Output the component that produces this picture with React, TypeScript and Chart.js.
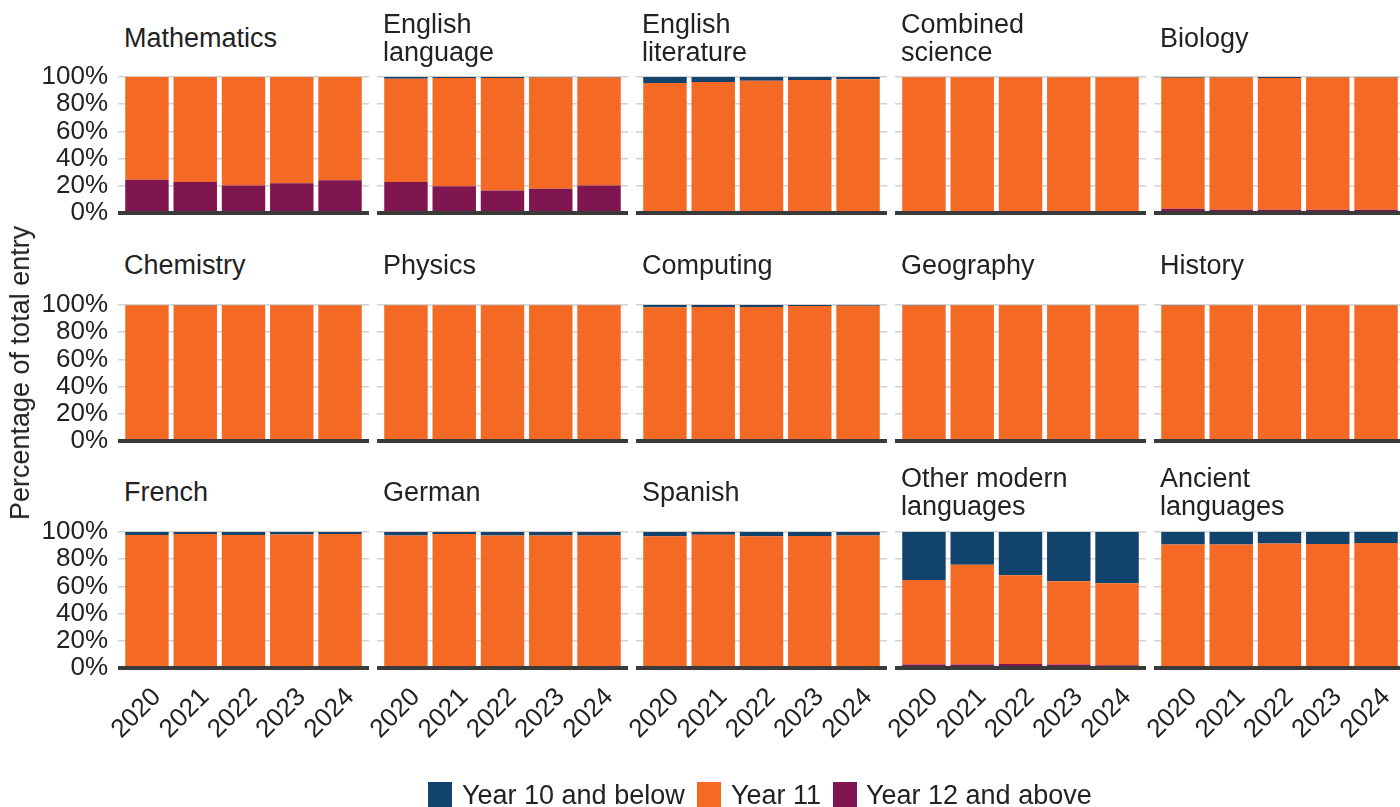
import React, { useEffect, useRef } from "react";
import { Chart, registerables } from "chart.js";

Chart.register(...registerables);

// ---------- data ----------
const subjects = [
  "Mathematics", "English language", "English literature", "Combined science", "Biology",
  "Chemistry", "Physics", "Computing", "Geography", "History",
  "French", "German", "Spanish", "Other modern languages", "Ancient languages",
];
const subjectTitleLines: string[][] = [
  ["Mathematics"], ["English", "language"], ["English", "literature"], ["Combined", "science"], ["Biology"],
  ["Chemistry"], ["Physics"], ["Computing"], ["Geography"], ["History"],
  ["French"], ["German"], ["Spanish"], ["Other modern", "languages"], ["Ancient", "languages"],
];
const years = ["2020", "2021", "2022", "2023", "2024"];
const yTicks = [0, 20, 40, 60, 80, 100];
const seriesNames = ["Year 10 and below", "Year 11", "Year 12 and above"];
const seriesColors = ["#12436D", "#F46A25", "#801650"];

// percentage of entry, one row per subject, one value per year
const year10Below: number[][] = [
  [0, 0, 0, 0, 0],
  [1.2, 0.7, 0.7, 0.4, 0.3],
  [4.4, 3.7, 2.7, 2.2, 1.7],
  [0.1, 0.1, 0.1, 0.1, 0.1],
  [0.6, 0.4, 0.8, 0.4, 0.4],
  [0.2, 0.3, 0.2, 0.1, 0.1],
  [0.1, 0.1, 0.1, 0.1, 0.1],
  [1.6, 1.5, 1.5, 0.8, 0.5],
  [0.3, 0.2, 0.2, 0.2, 0.2],
  [0.4, 0.2, 0.2, 0.2, 0.2],
  [2.2, 1.5, 2.2, 1.8, 1.5],
  [2.5, 1.5, 2.5, 2.5, 2.5],
  [3.2, 2.0, 3.2, 3.0, 2.5],
  [35.3, 24.0, 31.8, 36.3, 37.6],
  [9.2, 9.2, 8.5, 8.8, 8.0],
];
const year11: number[][] = [
  [75.5, 77.2, 79.7, 78.2, 76.0],
  [76.0, 79.7, 82.7, 81.7, 79.4],
  [95.4, 96.1, 97.1, 97.6, 98.1],
  [99.8, 99.8, 99.8, 99.8, 99.8],
  [96.2, 97.2, 96.8, 97.2, 97.2],
  [99.2, 99.1, 99.2, 98.7, 98.7],
  [99.4, 99.4, 99.4, 99.2, 99.1],
  [98.1, 98.2, 98.2, 98.9, 99.2],
  [99.4, 99.5, 99.5, 99.5, 99.5],
  [99.3, 99.5, 99.5, 99.5, 99.5],
  [97.4, 98.1, 97.4, 97.8, 98.1],
  [97.2, 98.2, 97.2, 97.2, 97.2],
  [96.4, 97.6, 96.4, 96.6, 97.1],
  [62.2, 73.5, 65.2, 61.2, 60.4],
  [90.3, 90.3, 90.5, 90.7, 91.0],
];
const year12Above: number[][] = [
  [24.5, 22.8, 20.3, 21.8, 24.0],
  [22.8, 19.6, 16.6, 17.9, 20.3],
  [0.2, 0.2, 0.2, 0.2, 0.2],
  [0.1, 0.1, 0.1, 0.1, 0.1],
  [3.2, 2.4, 2.4, 2.4, 2.4],
  [0.6, 0.6, 0.6, 1.2, 1.2],
  [0.5, 0.5, 0.5, 0.7, 0.8],
  [0.3, 0.3, 0.3, 0.3, 0.3],
  [0.3, 0.3, 0.3, 0.3, 0.3],
  [0.3, 0.3, 0.3, 0.3, 0.3],
  [0.4, 0.4, 0.4, 0.4, 0.4],
  [0.3, 0.3, 0.3, 0.3, 0.3],
  [0.4, 0.4, 0.4, 0.4, 0.4],
  [2.5, 2.5, 3.0, 2.5, 2.0],
  [0.5, 0.5, 1.0, 0.5, 1.0],
];

// ---------- layout ----------
const FONT = "'Liberation Sans', Arial, Helvetica, sans-serif";
const TICK_SIZE = 26;
const TEXT_SIZE = 27;
const TEXT_COLOR = "#222222";
const PANEL_W = 251;
const PANEL_H = 136;
const COL_STEP = 259;
const ROW_STEP = 227.3;
const PLOT_LEFT0 = 118;
const PLOT_TOP0 = 77.3;
const PAD_TOP = 16;

const baselinePlugin = {
  id: "baseline",
  afterDatasetsDraw(chart: any) {
    const { ctx, chartArea, scales } = chart;
    const y0 = scales.y.getPixelForValue(0);
    ctx.save();
    ctx.strokeStyle = "#3a3a3a";
    ctx.lineWidth = 4;
    ctx.beginPath();
    ctx.moveTo(chartArea.left, y0);
    ctx.lineTo(chartArea.right, y0);
    ctx.stroke();
    ctx.restore();
  },
};

function Panel({ index }: { index: number }) {
  const ref = useRef<HTMLCanvasElement | null>(null);
  const r = Math.floor(index / 5);
  const c = index % 5;
  const leftW = c === 0 ? PLOT_LEFT0 : 40;
  const bottomH = r === 2 ? 110 : 16;
  const canvasW = leftW + PANEL_W;
  const canvasH = PAD_TOP + PANEL_H + bottomH;
  const left = PLOT_LEFT0 + COL_STEP * c - leftW;
  const top = PLOT_TOP0 + ROW_STEP * r - PAD_TOP;

  useEffect(() => {
    if (!ref.current) return;
    const mk = (vals: number[]) => vals.map((v, k) => ({ x: k + 1, y: v }));
    const font = { family: FONT, size: TICK_SIZE };
    const chart = new Chart(ref.current, {
      type: "bar",
      data: {
        datasets: [
          { label: seriesNames[2], data: mk(year12Above[index]), backgroundColor: seriesColors[2] },
          { label: seriesNames[1], data: mk(year11[index]), backgroundColor: seriesColors[1] },
          { label: seriesNames[0], data: mk(year10Below[index]), backgroundColor: seriesColors[0] },
        ] as any,
      },
      options: {
        responsive: false,
        animation: false,
        devicePixelRatio: 1,
        barPercentage: 0.9,
        categoryPercentage: 1,
        layout: { padding: { top: PAD_TOP, left: 0, right: 0, bottom: 0 } },
        plugins: {
          legend: { display: false },
          tooltip: { enabled: false },
          title: { display: false },
        },
        scales: {
          x: {
            type: "linear",
            min: 0.4,
            max: 5.6,
            stacked: true,
            offset: false,
            grid: { display: false, drawTicks: false },
            border: { display: false },
            ticks: {
              display: r === 2,
              autoSkip: false,
              minRotation: 45,
              maxRotation: 45,
              padding: 14,
              labelOffset: 10,
              font,
              color: TEXT_COLOR,
              callback: (v: any) => years[Math.round(Number(v)) - 1] ?? "",
            },
            afterBuildTicks: (s: any) => {
              s.ticks = years.map((_, k) => ({ value: k + 1 }));
            },
            afterFit: (s: any) => {
              s.height = bottomH;
              s.paddingLeft = 0;
              s.paddingRight = 0;
            },
          },
          y: {
            min: 0,
            max: 100,
            stacked: true,
            grid: { color: "#d2d2d2", lineWidth: 1.6, drawTicks: false },
            border: { display: false },
            ticks: {
              display: c === 0,
              autoSkip: false,
              padding: 10,
              font,
              color: TEXT_COLOR,
              callback: (v: any) => `${v}%`,
            },
            afterBuildTicks: (s: any) => {
              s.ticks = yTicks.map((v) => ({ value: v }));
            },
            afterFit: (s: any) => {
              s.width = leftW;
              s.paddingTop = 0;
              s.paddingBottom = 0;
            },
          },
        } as any,
      } as any,
      plugins: [baselinePlugin],
    });
    return () => chart.destroy();
  }, [index]);

  const lines = subjectTitleLines[index];
  const titleTop = 38 + ROW_STEP * r - lines.length * 14 - 0.3;

  return (
    <>
      <canvas
        ref={ref}
        width={canvasW}
        height={canvasH}
        style={{ position: "absolute", left, top, width: canvasW, height: canvasH }}
      />
      <div
        style={{
          position: "absolute",
          left: PLOT_LEFT0 + COL_STEP * c + 6,
          top: titleTop,
          fontFamily: FONT,
          fontSize: TEXT_SIZE,
          lineHeight: "28px",
          color: TEXT_COLOR,
          whiteSpace: "nowrap",
        }}
        title={subjects[index]}
      >
        {lines.map((l, k) => (
          <div key={k}>{l}</div>
        ))}
      </div>
    </>
  );
}

export default function App() {
  const legendBoxes = [428, 697, 833];
  const legendTexts = [462, 731, 866];
  return (
    <div
      style={{
        position: "fixed",
        left: 0,
        top: 0,
        width: 1400,
        height: 807,
        overflow: "hidden",
        background: "#ffffff",
      }}
    >
      {subjects.map((_, i) => (
        <Panel key={i} index={i} />
      ))}
      <div
        style={{
          position: "absolute",
          left: 20,
          top: 373,
          transform: "translate(-50%, -50%) rotate(-90deg)",
          fontFamily: FONT,
          fontSize: TEXT_SIZE,
          lineHeight: "28px",
          color: TEXT_COLOR,
          whiteSpace: "nowrap",
        }}
      >
        Percentage of total entry
      </div>
      {seriesNames.map((name, k) => (
        <React.Fragment key={name}>
          <div
            style={{
              position: "absolute",
              left: legendBoxes[k],
              top: 782,
              width: 24,
              height: 25,
              background: seriesColors[k],
            }}
          />
          <div
            style={{
              position: "absolute",
              left: legendTexts[k],
              top: 781,
              fontFamily: FONT,
              fontSize: TEXT_SIZE,
              lineHeight: "28px",
              color: TEXT_COLOR,
              whiteSpace: "nowrap",
            }}
          >
            {name}
          </div>
        </React.Fragment>
      ))}
    </div>
  );
}
